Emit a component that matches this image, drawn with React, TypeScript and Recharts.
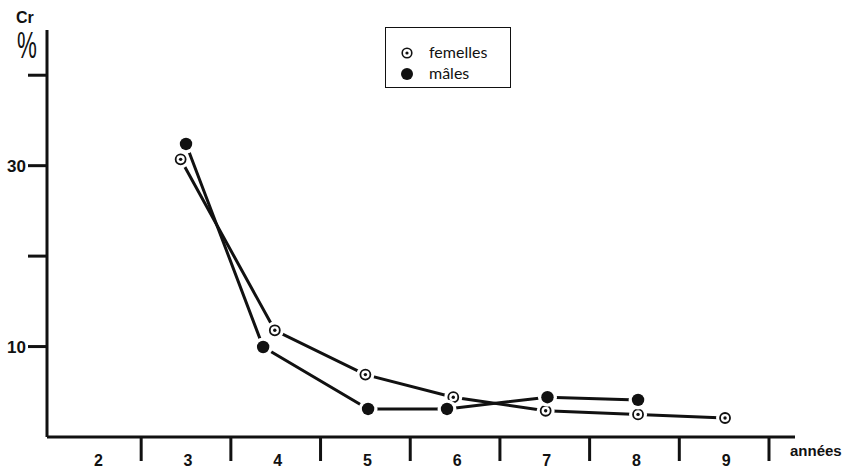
import { ScatterChart, Scatter, XAxis, YAxis } from "recharts";

// années (x) et Cr % (y)
const femellesAnnees = [2.94, 3.99, 5.0, 5.98, 7.01, 8.04, 9.01];
const femellesCr = [30.7, 11.8, 6.9, 4.4, 2.9, 2.5, 2.1];
const malesAnnees = [3.0, 3.86, 5.03, 5.91, 7.03, 8.04];
const malesCr = [32.4, 9.95, 3.1, 3.1, 4.4, 4.1];

const xTicks = [2, 2.5, 3, 3.5, 4, 4.5, 5, 5.5, 6, 6.5, 7, 7.5, 8, 8.5, 9, 9.5];
const yTicks = [10, 20, 30, 40];
const yLabels = [10, 30];

const femelles = femellesAnnees.map((a, i) => ({ x: a, y: femellesCr[i] }));
const males = malesAnnees.map((a, i) => ({ x: a, y: malesCr[i] }));

const INK = "#111";
const BOLD = "'Liberation Sans', Arial, sans-serif";

const FemaleDot = ({ cx, cy }: any) => (
  <g>
    <circle cx={cx} cy={cy} r={9} fill="#fff" />
    <circle cx={cx} cy={cy} r={5} fill="#fff" stroke={INK} strokeWidth={1.8} />
    <circle cx={cx} cy={cy} r={1.7} fill={INK} />
  </g>
);

const MaleDot = ({ cx, cy }: any) => (
  <g>
    <circle cx={cx} cy={cy} r={9.5} fill="#fff" />
    <circle cx={cx} cy={cy} r={6.2} fill={INK} />
  </g>
);

const XTick = ({ x, y, payload }: any) => {
  const v = payload.value;
  if (v % 1 !== 0) {
    return <line x1={x} y1={y} x2={x} y2={y + 24} stroke={INK} strokeWidth={3} />;
  }
  return (
    <text x={x + 2} y={y + 29} textAnchor="middle" fontFamily={BOLD} fontWeight="bold" fontSize={16} fill={INK}>
      {v}
    </text>
  );
};

const YTick = ({ x, y, payload }: any) => {
  if (!yLabels.includes(payload.value)) return <g />;
  return (
    <text x={x} y={y + 6} textAnchor="end" fontFamily={BOLD} fontWeight="bold" fontSize={17} fill={INK}>
      {payload.value}
    </text>
  );
};

export default function App() {
  return (
    <div style={{ position: "absolute", left: 0, top: 0, width: 859, height: 471, background: "#fff" }}>
      <ScatterChart width={859} height={471} margin={{ top: 30, right: 64, bottom: 0, left: 0 }}>
        <XAxis
          type="number"
          dataKey="x"
          domain={[1.45, 9.79]}
          ticks={xTicks}
          allowDataOverflow
          interval={0}
          height={34}
          axisLine={{ stroke: INK, strokeWidth: 3 }}
          tickLine={false}
          tickSize={0}
          tickMargin={0}
          tick={<XTick />}
        />
        <YAxis
          type="number"
          dataKey="y"
          domain={[0, 45]}
          ticks={yTicks}
          allowDataOverflow
          interval={0}
          width={47}
          axisLine={{ stroke: INK, strokeWidth: 3 }}
          tickLine={{ stroke: INK, strokeWidth: 3 }}
          tickSize={19}
          tickMargin={2}
          tick={<YTick />}
        />
        <Scatter
          name="femelles"
          data={femelles}
          line={{ stroke: INK, strokeWidth: 3 }}
          lineType="joint"
          shape={<FemaleDot />}
          isAnimationActive={false}
        />
        <Scatter
          name="mâles"
          data={males}
          line={{ stroke: INK, strokeWidth: 3 }}
          lineType="joint"
          shape={<MaleDot />}
          isAnimationActive={false}
        />
      </ScatterChart>

      <div
        style={{
          position: "absolute",
          left: 16,
          top: 10,
          fontFamily: BOLD,
          fontWeight: "bold",
          fontSize: 16,
          lineHeight: "16px",
          color: INK,
        }}
      >
        Cr
      </div>
      <div
        style={{
          position: "absolute",
          left: 17,
          top: 29,
          fontFamily: BOLD,
          fontSize: 36,
          lineHeight: "34px",
          color: INK,
          transform: "scaleX(0.62)",
          transformOrigin: "left top",
        }}
      >
        %
      </div>
      <div style={{ position: "absolute", left: 790, top: 442, fontFamily: BOLD, fontWeight: "bold", fontSize: 15, color: INK }}>
        années
      </div>

      <div
        style={{
          position: "absolute",
          left: 385,
          top: 27,
          width: 124,
          height: 59,
          border: `1.5px solid ${INK}`,
          fontFamily: "Lato, 'Open Sans', sans-serif",
          fontSize: 15,
          color: INK,
        }}
      >
        <svg width={124} height={59} style={{ position: "absolute", left: 0, top: 0 }}>
          <circle cx={21} cy={25} r={4.8} fill="#fff" stroke={INK} strokeWidth={1.6} />
          <circle cx={21} cy={25} r={1.6} fill={INK} />
          <circle cx={21} cy={46} r={6} fill={INK} />
          <text x={43} y={30} fontFamily="Lato, 'Open Sans', sans-serif" fontSize={16} fill={INK}>
            femelles
          </text>
          <text x={43} y={51} fontFamily="Lato, 'Open Sans', sans-serif" fontSize={16} fill={INK}>
            mâles
          </text>
        </svg>
      </div>
    </div>
  );
}
